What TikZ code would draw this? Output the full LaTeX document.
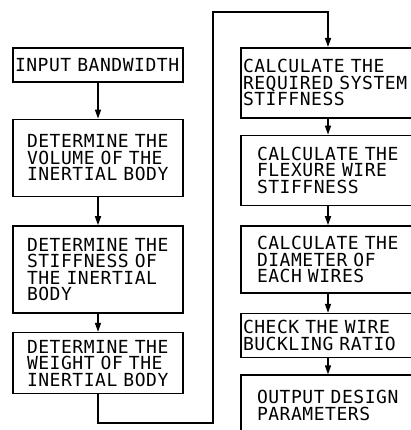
\documentclass[tikz,border=0pt]{standalone}
\usepackage{fontspec}
\usetikzlibrary{positioning, arrows.meta}
\newfontfamily\plotfont[LetterSpace=3]{DejaVu Sans Mono}
\tikzset{
  stepbox/.style={
    draw=black, line width=1.6pt, minimum width=170pt,
    font=\plotfont\fontsize{18}{16.5}\selectfont, align=left,
  },
  tightbox/.style={stepbox, inner xsep=2pt, text width=166pt},
  loosebox/.style={stepbox, inner xsep=14pt, text width=142pt},
  wideltight/.style={stepbox, minimum width=174pt, inner xsep=2pt, text width=170pt},
  wideloose/.style={stepbox, minimum width=174pt, inner xsep=16pt, text width=142pt},
  flowarrow/.style={
    -{Triangle[length=9pt, width=6pt]}, line width=1.4pt,
  },
}
\begin{document}
\begin{tikzpicture}[x=1pt, y=1pt]
  \useasboundingbox (0,0) rectangle (410,-430);

  % === Left column ===
  \node[tightbox, anchor=north, minimum height=34pt] (bandwidth) at (98,-47) {INPUT BANDWIDTH};
  \node[loosebox, below=36pt of bandwidth, minimum height=77pt] (volume) {DETERMINE THE\\VOLUME OF THE\\INERTIAL BODY};
  \node[loosebox, below=28pt of volume, minimum height=87pt] (stiffbody) {DETERMINE THE\\STIFFNESS OF\\THE INERTIAL\\BODY};
  \node[loosebox, below=18pt of stiffbody, minimum height=61pt] (weight) {DETERMINE THE\\WEIGHT OF THE\\INERTIAL BODY};

  % === Right column ===
  \node[wideltight, anchor=north, minimum height=70pt] (sysstiff) at (328,-47) {CALCULATE THE\\REQUIRED SYSTEM\\STIFFNESS};
  \node[wideloose, below=16pt of sysstiff, minimum height=70pt] (wirestiff) {CALCULATE THE\\FLEXURE WIRE\\STIFFNESS};
  \node[wideloose, below=19pt of wirestiff, minimum height=67pt] (diameter) {CALCULATE THE\\DIAMETER OF\\EACH WIRES};
  \node[wideltight, below=19pt of diameter, minimum height=44pt] (buckling) {CHECK THE WIRE\\BUCKLING RATIO};
  \node[wideloose, below=16pt of buckling, minimum height=60pt] (output) {OUTPUT DESIGN\\PARAMETERS};

  % === Turn points of the loop ===
  \coordinate (turnlow) at (213,-423);
  \coordinate (turnhigh) at (213,-12);

  % === Arrows ===
  \draw[flowarrow] (bandwidth) -- (volume);
  \draw[flowarrow] (volume) -- (stiffbody);
  \draw[flowarrow] (stiffbody) -- (weight);
  \draw[flowarrow] (weight.south) |- (turnlow) -- (turnhigh) -| (sysstiff.north);
  \draw[flowarrow] (sysstiff) -- (wirestiff);
  \draw[flowarrow] (wirestiff) -- (diameter);
  \draw[flowarrow] (diameter) -- (buckling);
  \draw[flowarrow] (buckling) -- (output);

\end{tikzpicture}
\end{document}
